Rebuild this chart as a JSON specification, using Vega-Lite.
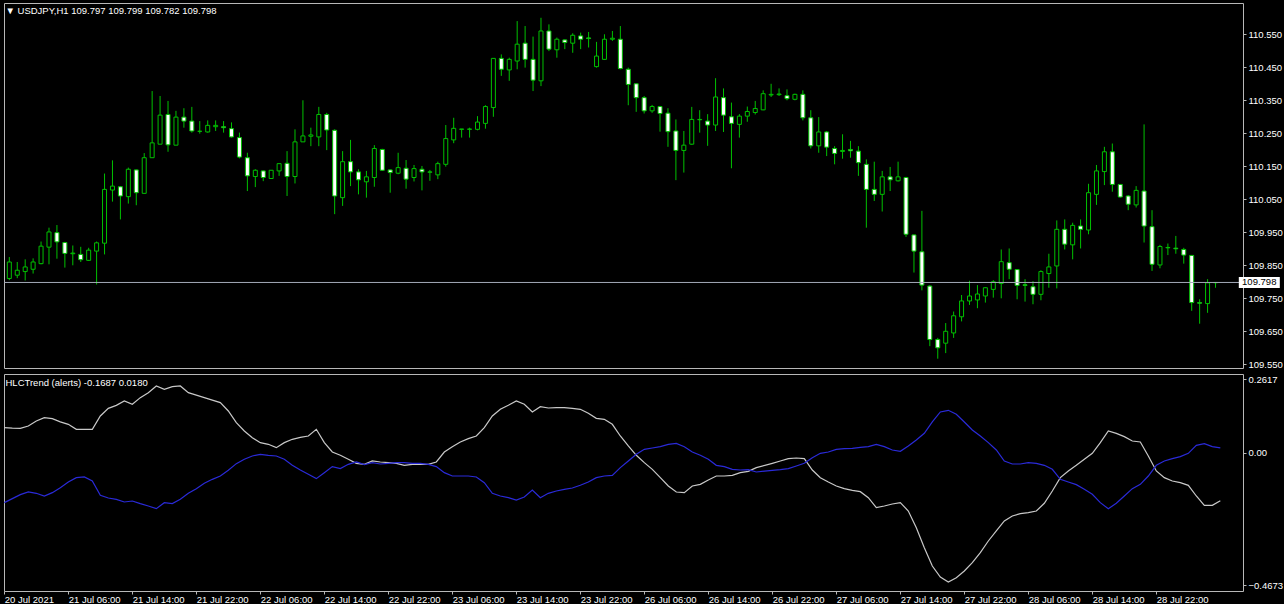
{
"$schema": "https://vega.github.io/schema/vega-lite/v6.json",
"background": "black",
"padding": {"left": 3, "top": 2, "right": 0, "bottom": 0},
"spacing": 3,
"config": {
 "view": {"stroke": "#b8b8b8", "strokeWidth": 1},
 "axis": {"grid": false, "domain": false, "labelColor": "#ffffff", "tickColor": "#b8b8b8", "labelFont": "Liberation Sans", "labelFontSize": 9.5, "tickSize": 3, "labelPadding": 2, "labelOverlap": false},
 "axisY": {"labelOverlap": false},
 "axisRight": {"labelOverlap": false},
 "title": {"font": "Liberation Sans", "fontSize": 9.5, "fontWeight": "normal", "color": "#ffffff", "anchor": "start"}
},
"datasets": {
"candles": [
{"i":0,"open":109.810,"high":109.875,"low":109.805,"close":109.860},
{"i":1,"open":109.820,"high":109.860,"low":109.811,"close":109.835},
{"i":2,"open":109.831,"high":109.868,"low":109.804,"close":109.845},
{"i":3,"open":109.838,"high":109.871,"low":109.825,"close":109.860},
{"i":4,"open":109.855,"high":109.922,"low":109.853,"close":109.908},
{"i":5,"open":109.905,"high":109.964,"low":109.853,"close":109.951},
{"i":6,"open":109.949,"high":109.972,"low":109.870,"close":109.921},
{"i":7,"open":109.919,"high":109.921,"low":109.843,"close":109.886},
{"i":8,"open":109.885,"high":109.910,"low":109.850,"close":109.887},
{"i":9,"open":109.883,"high":109.906,"low":109.860,"close":109.867},
{"i":10,"open":109.865,"high":109.903,"low":109.863,"close":109.896},
{"i":11,"open":109.893,"high":109.922,"low":109.792,"close":109.918},
{"i":12,"open":109.917,"high":110.128,"low":109.883,"close":110.080},
{"i":13,"open":110.078,"high":110.168,"low":110.043,"close":110.090},
{"i":14,"open":110.088,"high":110.090,"low":109.989,"close":110.060},
{"i":15,"open":110.058,"high":110.146,"low":110.037,"close":110.141},
{"i":16,"open":110.139,"high":110.140,"low":110.032,"close":110.070},
{"i":17,"open":110.068,"high":110.190,"low":110.068,"close":110.176},
{"i":18,"open":110.176,"high":110.378,"low":110.176,"close":110.221},
{"i":19,"open":110.217,"high":110.363,"low":110.217,"close":110.305},
{"i":20,"open":110.307,"high":110.348,"low":110.194,"close":110.215},
{"i":21,"open":110.214,"high":110.318,"low":110.214,"close":110.299},
{"i":22,"open":110.299,"high":110.326,"low":110.267,"close":110.287},
{"i":23,"open":110.287,"high":110.330,"low":110.252,"close":110.257},
{"i":24,"open":110.256,"high":110.287,"low":110.249,"close":110.256},
{"i":25,"open":110.254,"high":110.289,"low":110.252,"close":110.274},
{"i":26,"open":110.270,"high":110.289,"low":110.257,"close":110.274},
{"i":27,"open":110.270,"high":110.287,"low":110.252,"close":110.267},
{"i":28,"open":110.264,"high":110.283,"low":110.237,"close":110.239},
{"i":29,"open":110.237,"high":110.252,"low":110.174,"close":110.178},
{"i":30,"open":110.176,"high":110.191,"low":110.075,"close":110.121},
{"i":31,"open":110.119,"high":110.141,"low":110.087,"close":110.138},
{"i":32,"open":110.136,"high":110.137,"low":110.105,"close":110.116},
{"i":33,"open":110.113,"high":110.138,"low":110.113,"close":110.138},
{"i":34,"open":110.136,"high":110.158,"low":110.121,"close":110.158},
{"i":35,"open":110.159,"high":110.196,"low":110.060,"close":110.119},
{"i":36,"open":110.119,"high":110.262,"low":110.098,"close":110.224},
{"i":37,"open":110.224,"high":110.350,"low":110.224,"close":110.242},
{"i":38,"open":110.241,"high":110.267,"low":110.211,"close":110.245},
{"i":39,"open":110.239,"high":110.330,"low":110.211,"close":110.307},
{"i":40,"open":110.307,"high":110.312,"low":110.199,"close":110.260},
{"i":41,"open":110.259,"high":110.262,"low":110.005,"close":110.060},
{"i":42,"open":110.055,"high":110.196,"low":110.030,"close":110.164},
{"i":43,"open":110.164,"high":110.230,"low":110.090,"close":110.133},
{"i":44,"open":110.133,"high":110.141,"low":110.065,"close":110.109},
{"i":45,"open":110.103,"high":110.136,"low":110.055,"close":110.118},
{"i":46,"open":110.116,"high":110.214,"low":110.088,"close":110.204},
{"i":47,"open":110.201,"high":110.203,"low":110.136,"close":110.138},
{"i":48,"open":110.139,"high":110.140,"low":110.070,"close":110.131},
{"i":49,"open":110.129,"high":110.191,"low":110.126,"close":110.146},
{"i":50,"open":110.144,"high":110.169,"low":110.082,"close":110.111},
{"i":51,"open":110.116,"high":110.154,"low":110.104,"close":110.143},
{"i":52,"open":110.141,"high":110.151,"low":110.077,"close":110.133},
{"i":53,"open":110.132,"high":110.139,"low":110.106,"close":110.133},
{"i":54,"open":110.124,"high":110.164,"low":110.111,"close":110.158},
{"i":55,"open":110.156,"high":110.275,"low":110.149,"close":110.234},
{"i":56,"open":110.230,"high":110.297,"low":110.220,"close":110.265},
{"i":57,"open":110.262,"high":110.263,"low":110.237,"close":110.263},
{"i":58,"open":110.262,"high":110.267,"low":110.237,"close":110.263},
{"i":59,"open":110.262,"high":110.302,"low":110.259,"close":110.284},
{"i":60,"open":110.280,"high":110.335,"low":110.264,"close":110.331},
{"i":61,"open":110.328,"high":110.478,"low":110.300,"close":110.477},
{"i":62,"open":110.477,"high":110.489,"low":110.424,"close":110.444},
{"i":63,"open":110.442,"high":110.479,"low":110.409,"close":110.474},
{"i":64,"open":110.469,"high":110.590,"low":110.444,"close":110.520},
{"i":65,"open":110.523,"high":110.575,"low":110.449,"close":110.474},
{"i":66,"open":110.474,"high":110.543,"low":110.378,"close":110.411},
{"i":67,"open":110.409,"high":110.600,"low":110.393,"close":110.560},
{"i":68,"open":110.560,"high":110.580,"low":110.499,"close":110.505},
{"i":69,"open":110.503,"high":110.540,"low":110.479,"close":110.535},
{"i":70,"open":110.533,"high":110.534,"low":110.505,"close":110.525},
{"i":71,"open":110.523,"high":110.553,"low":110.494,"close":110.547},
{"i":72,"open":110.545,"high":110.555,"low":110.505,"close":110.535},
{"i":73,"open":110.539,"high":110.557,"low":110.510,"close":110.537},
{"i":74,"open":110.452,"high":110.527,"low":110.449,"close":110.484},
{"i":75,"open":110.474,"high":110.550,"low":110.472,"close":110.535},
{"i":76,"open":110.535,"high":110.560,"low":110.530,"close":110.538},
{"i":77,"open":110.535,"high":110.575,"low":110.444,"close":110.446},
{"i":78,"open":110.444,"high":110.449,"low":110.335,"close":110.398},
{"i":79,"open":110.400,"high":110.401,"low":110.315,"close":110.358},
{"i":80,"open":110.358,"high":110.363,"low":110.310,"close":110.318},
{"i":81,"open":110.318,"high":110.336,"low":110.312,"close":110.331},
{"i":82,"open":110.331,"high":110.333,"low":110.255,"close":110.310},
{"i":83,"open":110.311,"high":110.326,"low":110.209,"close":110.255},
{"i":84,"open":110.257,"high":110.292,"low":110.108,"close":110.198},
{"i":85,"open":110.198,"high":110.257,"low":110.131,"close":110.214},
{"i":86,"open":110.217,"high":110.330,"low":110.215,"close":110.292},
{"i":87,"open":110.291,"high":110.320,"low":110.252,"close":110.292},
{"i":88,"open":110.287,"high":110.308,"low":110.212,"close":110.275},
{"i":89,"open":110.275,"high":110.417,"low":110.257,"close":110.360},
{"i":90,"open":110.358,"high":110.386,"low":110.254,"close":110.305},
{"i":91,"open":110.300,"high":110.343,"low":110.144,"close":110.280},
{"i":92,"open":110.277,"high":110.308,"low":110.237,"close":110.302},
{"i":93,"open":110.302,"high":110.331,"low":110.285,"close":110.316},
{"i":94,"open":110.313,"high":110.348,"low":110.307,"close":110.325},
{"i":95,"open":110.321,"high":110.380,"low":110.320,"close":110.370},
{"i":96,"open":110.366,"high":110.400,"low":110.360,"close":110.368},
{"i":97,"open":110.367,"high":110.386,"low":110.363,"close":110.369},
{"i":98,"open":110.364,"high":110.383,"low":110.350,"close":110.355},
{"i":99,"open":110.353,"high":110.370,"low":110.350,"close":110.368},
{"i":100,"open":110.368,"high":110.380,"low":110.289,"close":110.297},
{"i":101,"open":110.297,"high":110.320,"low":110.204,"close":110.212},
{"i":102,"open":110.212,"high":110.299,"low":110.191,"close":110.254},
{"i":103,"open":110.254,"high":110.257,"low":110.181,"close":110.208},
{"i":104,"open":110.204,"high":110.211,"low":110.156,"close":110.189},
{"i":105,"open":110.195,"high":110.247,"low":110.173,"close":110.198},
{"i":106,"open":110.201,"high":110.227,"low":110.176,"close":110.197},
{"i":107,"open":110.196,"high":110.211,"low":110.121,"close":110.161},
{"i":108,"open":110.156,"high":110.171,"low":109.964,"close":110.080},
{"i":109,"open":110.080,"high":110.164,"low":110.045,"close":110.065},
{"i":110,"open":110.065,"high":110.136,"low":110.013,"close":110.118},
{"i":111,"open":110.118,"high":110.148,"low":110.075,"close":110.109},
{"i":112,"open":110.106,"high":110.164,"low":110.104,"close":110.118},
{"i":113,"open":110.116,"high":110.118,"low":109.936,"close":109.944},
{"i":114,"open":109.942,"high":109.943,"low":109.828,"close":109.893},
{"i":115,"open":109.891,"high":110.015,"low":109.774,"close":109.790},
{"i":116,"open":109.787,"high":109.790,"low":109.605,"close":109.625},
{"i":117,"open":109.625,"high":109.630,"low":109.567,"close":109.600},
{"i":118,"open":109.614,"high":109.675,"low":109.584,"close":109.650},
{"i":119,"open":109.645,"high":109.710,"low":109.630,"close":109.697},
{"i":120,"open":109.694,"high":109.760,"low":109.680,"close":109.742},
{"i":121,"open":109.742,"high":109.803,"low":109.730,"close":109.757},
{"i":122,"open":109.745,"high":109.790,"low":109.720,"close":109.763},
{"i":123,"open":109.757,"high":109.784,"low":109.737,"close":109.782},
{"i":124,"open":109.777,"high":109.805,"low":109.752,"close":109.800},
{"i":125,"open":109.795,"high":109.898,"low":109.750,"close":109.861},
{"i":126,"open":109.858,"high":109.901,"low":109.808,"close":109.838},
{"i":127,"open":109.837,"high":109.838,"low":109.747,"close":109.789},
{"i":128,"open":109.791,"high":109.808,"low":109.740,"close":109.789},
{"i":129,"open":109.785,"high":109.802,"low":109.732,"close":109.762},
{"i":130,"open":109.762,"high":109.835,"low":109.744,"close":109.831},
{"i":131,"open":109.825,"high":109.885,"low":109.782,"close":109.845},
{"i":132,"open":109.848,"high":109.986,"low":109.780,"close":109.959},
{"i":133,"open":109.959,"high":109.989,"low":109.898,"close":109.914},
{"i":134,"open":109.912,"high":109.979,"low":109.868,"close":109.971},
{"i":135,"open":109.969,"high":109.989,"low":109.901,"close":109.959},
{"i":136,"open":109.957,"high":110.097,"low":109.944,"close":110.070},
{"i":137,"open":110.065,"high":110.154,"low":110.033,"close":110.136},
{"i":138,"open":110.134,"high":110.209,"low":110.093,"close":110.194},
{"i":139,"open":110.194,"high":110.219,"low":110.073,"close":110.095},
{"i":140,"open":110.095,"high":110.096,"low":110.055,"close":110.057},
{"i":141,"open":110.060,"high":110.063,"low":110.017,"close":110.035},
{"i":142,"open":110.033,"high":110.090,"low":110.025,"close":110.077},
{"i":143,"open":110.075,"high":110.277,"low":109.919,"close":109.969},
{"i":144,"open":109.967,"high":110.017,"low":109.833,"close":109.853},
{"i":145,"open":109.851,"high":109.912,"low":109.841,"close":109.907},
{"i":146,"open":109.904,"high":109.916,"low":109.881,"close":109.903},
{"i":147,"open":109.902,"high":109.939,"low":109.885,"close":109.900},
{"i":148,"open":109.898,"high":109.903,"low":109.855,"close":109.881},
{"i":149,"open":109.880,"high":109.881,"low":109.712,"close":109.737},
{"i":150,"open":109.737,"high":109.747,"low":109.673,"close":109.735},
{"i":151,"open":109.734,"high":109.808,"low":109.706,"close":109.797},
{"i":152,"open":109.797,"high":109.799,"low":109.782,"close":109.798}
],
"hlc": [
{"i":0,"g":0.0897,"b":-0.1758},{"i":1,"g":0.0880,"b":-0.1616},{"i":2,"g":0.0873,"b":-0.1475},{"i":3,"g":0.0956,"b":-0.1380},{"i":4,"g":0.1133,"b":-0.1427},
{"i":5,"g":0.1251,"b":-0.1522},{"i":6,"g":0.1215,"b":-0.1404},{"i":7,"g":0.1100,"b":-0.1227},{"i":8,"g":0.1015,"b":-0.1026},{"i":9,"g":0.0838,"b":-0.0873},
{"i":10,"g":0.0838,"b":-0.0849},{"i":11,"g":0.0838,"b":-0.0991},{"i":12,"g":0.1310,"b":-0.1498},{"i":13,"g":0.1581,"b":-0.1593},{"i":14,"g":0.1687,"b":-0.1640},
{"i":15,"g":0.1841,"b":-0.1734},{"i":16,"g":0.1723,"b":-0.1699},{"i":17,"g":0.1959,"b":-0.1793},{"i":18,"g":0.2136,"b":-0.1876},{"i":19,"g":0.2372,"b":-0.1970},
{"i":20,"g":0.2254,"b":-0.1758},{"i":21,"g":0.2348,"b":-0.1793},{"i":22,"g":0.2372,"b":-0.1640},{"i":23,"g":0.2136,"b":-0.1427},{"i":24,"g":0.2050,"b":-0.1262},
{"i":25,"g":0.1959,"b":-0.1073},{"i":26,"g":0.1870,"b":-0.0932},{"i":27,"g":0.1782,"b":-0.0814},{"i":28,"g":0.1487,"b":-0.0613},{"i":29,"g":0.1074,"b":-0.0377},
{"i":30,"g":0.0779,"b":-0.0224},{"i":31,"g":0.0543,"b":-0.0106},{"i":32,"g":0.0366,"b":-0.0047},{"i":33,"g":0.0307,"b":-0.0082},{"i":34,"g":0.0189,"b":-0.0106},
{"i":35,"g":0.0366,"b":-0.0224},{"i":36,"g":0.0484,"b":-0.0436},{"i":37,"g":0.0550,"b":-0.0602},{"i":38,"g":0.0602,"b":-0.0755},{"i":39,"g":0.0838,"b":-0.0908},
{"i":40,"g":0.0366,"b":-0.0696},{"i":41,"g":0.0035,"b":-0.0483},{"i":42,"g":-0.0082,"b":-0.0554},{"i":43,"g":-0.0224,"b":-0.0401},{"i":44,"g":-0.0365,"b":-0.0318},
{"i":45,"g":-0.0401,"b":-0.0413},{"i":46,"g":-0.0283,"b":-0.0342},{"i":47,"g":-0.0318,"b":-0.0389},{"i":48,"g":-0.0342,"b":-0.0365},{"i":49,"g":-0.0365,"b":-0.0342},
{"i":50,"g":-0.0436,"b":-0.0342},{"i":51,"g":-0.0401,"b":-0.0365},{"i":52,"g":-0.0401,"b":-0.0365},{"i":53,"g":-0.0401,"b":-0.0401},{"i":54,"g":-0.0318,"b":-0.0483},
{"i":55,"g":0.0035,"b":-0.0696},{"i":56,"g":0.0224,"b":-0.0814},{"i":57,"g":0.0390,"b":-0.0814},{"i":58,"g":0.0508,"b":-0.0814},{"i":59,"g":0.0602,"b":-0.0849},
{"i":60,"g":0.0897,"b":-0.1050},{"i":61,"g":0.1310,"b":-0.1427},{"i":62,"g":0.1546,"b":-0.1522},{"i":63,"g":0.1687,"b":-0.1581},{"i":64,"g":0.1841,"b":-0.1664},
{"i":65,"g":0.1723,"b":-0.1557},{"i":66,"g":0.1451,"b":-0.1309},{"i":67,"g":0.1640,"b":-0.1581},{"i":68,"g":0.1593,"b":-0.1427},{"i":69,"g":0.1605,"b":-0.1345},
{"i":70,"g":0.1605,"b":-0.1286},{"i":71,"g":0.1581,"b":-0.1239},{"i":72,"g":0.1546,"b":-0.1144},{"i":73,"g":0.1404,"b":-0.1026},{"i":74,"g":0.1227,"b":-0.0873},
{"i":75,"g":0.1192,"b":-0.0814},{"i":76,"g":0.1015,"b":-0.0790},{"i":77,"g":0.0602,"b":-0.0519},{"i":78,"g":0.0248,"b":-0.0283},{"i":79,"g":-0.0082,"b":-0.0047},
{"i":80,"g":-0.0342,"b":0.0130},{"i":81,"g":-0.0578,"b":0.0177},{"i":82,"g":-0.0873,"b":0.0224},{"i":83,"g":-0.1168,"b":0.0307},{"i":84,"g":-0.1380,"b":0.0342},
{"i":85,"g":-0.1404,"b":0.0224},{"i":86,"g":-0.1168,"b":0.0035},{"i":87,"g":-0.1109,"b":-0.0082},{"i":88,"g":-0.0955,"b":-0.0224},{"i":89,"g":-0.0814,"b":-0.0436},
{"i":90,"g":-0.0814,"b":-0.0483},{"i":91,"g":-0.0790,"b":-0.0578},{"i":92,"g":-0.0696,"b":-0.0602},{"i":93,"g":-0.0649,"b":-0.0590},{"i":94,"g":-0.0519,"b":-0.0672},
{"i":96,"g":-0.0365,"b":-0.0613},{"i":97,"g":-0.0283,"b":-0.0590},{"i":98,"g":-0.0200,"b":-0.0554},{"i":99,"g":-0.0177,"b":-0.0460},{"i":100,"g":-0.0200,"b":-0.0365},
{"i":101,"g":-0.0602,"b":-0.0165},{"i":102,"g":-0.0873,"b":-0.0012},{"i":103,"g":-0.1026,"b":0.0035},{"i":104,"g":-0.1168,"b":0.0130},{"i":105,"g":-0.1262,"b":0.0154},
{"i":106,"g":-0.1321,"b":0.0165},{"i":107,"g":-0.1369,"b":0.0201},{"i":108,"g":-0.1581,"b":0.0224},{"i":109,"g":-0.1935,"b":0.0307},{"i":110,"g":-0.1876,"b":0.0224},
{"i":111,"g":-0.1805,"b":0.0106},{"i":112,"g":-0.1758,"b":0.0059},{"i":113,"g":-0.2053,"b":0.0248},{"i":114,"g":-0.2643,"b":0.0460},{"i":115,"g":-0.3351,"b":0.0696},
{"i":116,"g":-0.4000,"b":0.1098},{"i":117,"g":-0.4389,"b":0.1451},{"i":118,"g":-0.4566,"b":0.1511},{"i":119,"g":-0.4413,"b":0.1369},{"i":120,"g":-0.4177,"b":0.1098},
{"i":121,"g":-0.3882,"b":0.0814},{"i":122,"g":-0.3528,"b":0.0602},{"i":123,"g":-0.3115,"b":0.0366},{"i":124,"g":-0.2761,"b":0.0106},{"i":125,"g":-0.2407,"b":-0.0283},
{"i":126,"g":-0.2230,"b":-0.0389},{"i":127,"g":-0.2147,"b":-0.0389},{"i":128,"g":-0.2112,"b":-0.0342},{"i":129,"g":-0.2053,"b":-0.0365},{"i":130,"g":-0.1781,"b":-0.0436},
{"i":131,"g":-0.1345,"b":-0.0578},{"i":132,"g":-0.0873,"b":-0.0932},{"i":133,"g":-0.0637,"b":-0.1026},{"i":134,"g":-0.0436,"b":-0.1121},{"i":135,"g":-0.0224,"b":-0.1286},
{"i":136,"g":-0.0012,"b":-0.1463},{"i":137,"g":0.0366,"b":-0.1758},{"i":138,"g":0.0779,"b":-0.1970},{"i":139,"g":0.0696,"b":-0.1781},{"i":140,"g":0.0578,"b":-0.1522},
{"i":141,"g":0.0425,"b":-0.1262},{"i":142,"g":0.0390,"b":-0.1109},{"i":143,"g":-0.0106,"b":-0.0814},{"i":144,"g":-0.0637,"b":-0.0436},{"i":145,"g":-0.0873,"b":-0.0283},
{"i":146,"g":-0.0991,"b":-0.0200},{"i":147,"g":-0.1050,"b":-0.0130},{"i":148,"g":-0.1144,"b":-0.0012},{"i":149,"g":-0.1522,"b":0.0272},{"i":150,"g":-0.1852,"b":0.0331},
{"i":151,"g":-0.1852,"b":0.0224},{"i":152,"g":-0.1687,"b":0.0180}
]
},
"vconcat": [
{
 "width": 1239, "height": 365,
 "title": {"text": "▼ USDJPY,H1  109.797 109.799 109.782 109.798", "offset": -12, "dx": 2},
 "data": {"name": "candles"},
 "encoding": {
  "y": {"type": "quantitative", "scale": {"domain": [109.5388, 110.6448], "nice": false, "zero": false},
        "axis": {"orient": "right", "values": [109.55,109.65,109.75,109.85,109.95,110.05,110.15,110.25,110.35,110.45,110.55], "format": ".3f", "title": null, "labelOverlap": false}}
 },
 "layer": [
  {"mark": {"type": "rule", "color": "#00c000", "strokeWidth": 1, "clip": true},
   "encoding": {
    "x": {"field": "i", "type": "quantitative", "scale": {"domain": [-0.04, 154.835], "nice": false, "zero": false}, "axis": null},
    "y": {"field": "low"},
    "y2": {"field": "high"}}},
  {"mark": {"type": "bar", "size": 4, "stroke": "#00c000", "strokeWidth": 1, "clip": true},
   "encoding": {
    "x": {"field": "i", "type": "quantitative", "scale": {"domain": [-0.04, 154.835], "nice": false, "zero": false}, "axis": null},
    "y": {"field": "open"},
    "y2": {"field": "close"},
    "fill": {"condition": {"test": "datum.close >= datum.open", "value": "#000000"}, "value": "#ffffff"}}},
  {"transform": [{"filter": "datum.i == 152"}],
   "mark": {"type": "rule", "color": "#a4aab8", "strokeWidth": 1},
   "encoding": {"y": {"field": "close"}}},
  {"transform": [{"filter": "datum.i == 152"}],
   "mark": {"type": "tick", "orient": "horizontal", "size": 41, "thickness": 11, "color": "#ffffff", "opacity": 1},
   "encoding": {
    "x": {"datum": 157.52, "type": "quantitative", "scale": {"domain": [-0.04, 154.835], "nice": false, "zero": false}},
    "y": {"field": "close"}}},
  {"transform": [{"filter": "datum.i == 152"}],
   "mark": {"type": "text", "align": "left", "baseline": "middle", "color": "#000000", "font": "Liberation Sans", "fontSize": 9.5},
   "encoding": {
    "x": {"datum": 155.35, "type": "quantitative", "scale": {"domain": [-0.04, 154.835], "nice": false, "zero": false}},
    "y": {"field": "close"},
    "text": {"field": "close", "type": "quantitative", "format": ".3f"}}}
 ]
},
{
 "width": 1239, "height": 217,
 "title": {"text": "HLCTrend (alerts) -0.1687 0.0180", "offset": -13, "dx": 2},
 "data": {"name": "hlc"},
 "transform": [{"fold": ["g", "b"], "as": ["series", "v"]}],
 "mark": {"type": "line", "strokeWidth": 1.2, "clip": true},
 "encoding": {
  "x": {"field": "i", "type": "quantitative", "scale": {"domain": [-0.04, 154.835], "nice": false, "zero": false},
        "axis": {"orient": "bottom", "values": [0,8,16,24,32,40,48,56,64,72,80,88,96,104,112,120,128,136,144], "labelAlign": "left", "labelFlush": false, "labelOverlap": false, "labelPadding": 0, "tickSize": 3, "title": null,
                 "labelExpr": "['20 Jul 2021','21 Jul 06:00','21 Jul 14:00','21 Jul 22:00','22 Jul 06:00','22 Jul 14:00','22 Jul 22:00','23 Jul 06:00','23 Jul 14:00','23 Jul 22:00','26 Jul 06:00','26 Jul 14:00','26 Jul 22:00','27 Jul 06:00','27 Jul 14:00','27 Jul 22:00','28 Jul 06:00','28 Jul 14:00','28 Jul 22:00'][round(datum.value/8)]"}},
  "y": {"field": "v", "type": "quantitative", "scale": {"domain": [-0.4885, 0.2796], "nice": false, "zero": false},
        "axis": {"orient": "right", "values": [0.2617, 0, -0.4673], "labelExpr": "datum.value == 0 ? '0.00' : format(datum.value, '.4f')", "title": null}},
  "color": {"field": "series", "type": "nominal", "scale": {"domain": ["g", "b"], "range": ["#c8c8c8", "#2a2ad8"]}, "legend": null}
 }
}
]
}
